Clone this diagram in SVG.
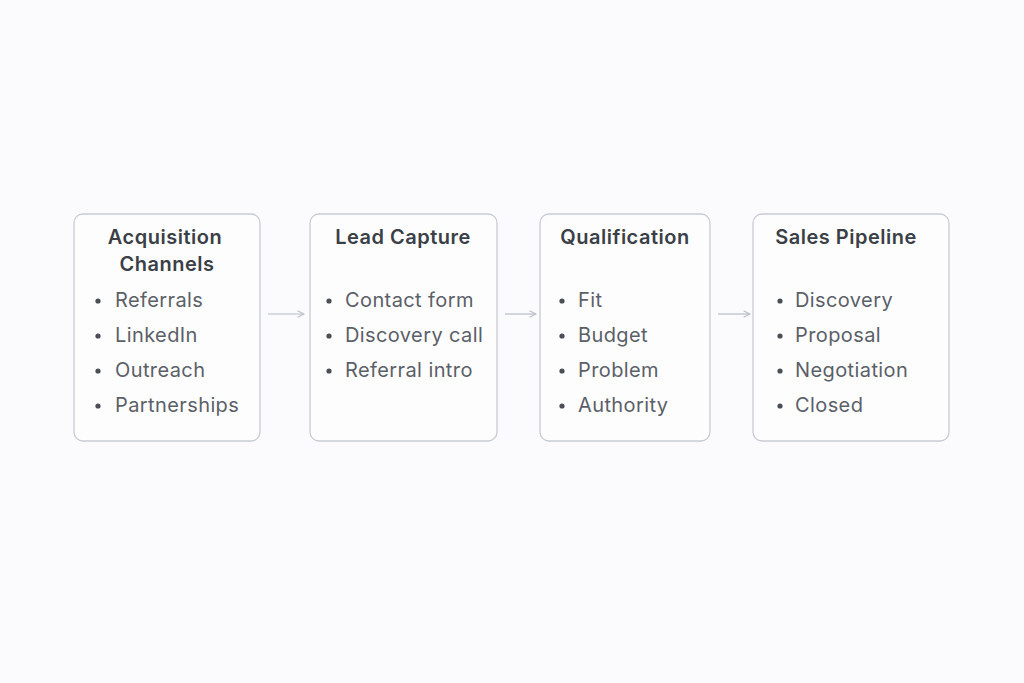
<svg xmlns="http://www.w3.org/2000/svg" width="1024" height="683" viewBox="0 0 1024 683">
<defs>
<style>
.box{fill:#fdfdfe;stroke:#c8cbd5;stroke-width:1.3}
.title{font-family:Inter,"Noto Sans",sans-serif;font-weight:600;font-size:20px;letter-spacing:0.5px;fill:#3b3f46;text-anchor:middle}
.item{font-family:Inter,"Noto Sans",sans-serif;font-size:20px;letter-spacing:0.4px;fill:#5b6068}
.bul{fill:#4a4e55}
.conn{stroke:#b8bcc8;stroke-width:1.2;fill:none}
</style>
<marker id="ah" viewBox="0 0 10 10" refX="9" refY="5" markerWidth="8" markerHeight="8" orient="auto" markerUnits="userSpaceOnUse">
<path d="M1,1 L9,5 L1,9" fill="none" stroke="#b8bcc8" stroke-width="1.3"/>
</marker>
</defs>
<rect width="1024" height="683" fill="#fbfbfd"/>
<g id="connectors">
<line class="conn" x1="268" y1="314" x2="304" y2="314" marker-end="url(#ah)"/>
<line class="conn" x1="505" y1="314" x2="536" y2="314" marker-end="url(#ah)"/>
<line class="conn" x1="718" y1="314" x2="750" y2="314" marker-end="url(#ah)"/>
</g>
<g id="acquisition">
<rect class="box" x="74" y="214" width="186" height="227" rx="9"/>
<text class="title" x="165" y="244">Acquisition</text>
<text class="title" x="167" y="271">Channels</text>
<circle class="bul" cx="98" cy="301" r="2.6"/><text class="item" x="115" y="307">Referrals</text>
<circle class="bul" cx="98" cy="336" r="2.6"/><text class="item" x="115" y="342">LinkedIn</text>
<circle class="bul" cx="98" cy="371" r="2.6"/><text class="item" x="115" y="377">Outreach</text>
<circle class="bul" cx="98" cy="406" r="2.6"/><text class="item" x="115" y="412">Partnerships</text>
</g>
<g id="lead-capture">
<rect class="box" x="310" y="214" width="187" height="227" rx="9"/>
<text class="title" x="403" y="244">Lead Capture</text>
<circle class="bul" cx="329" cy="301" r="2.6"/><text class="item" x="345" y="307">Contact form</text>
<circle class="bul" cx="329" cy="336" r="2.6"/><text class="item" x="345" y="342">Discovery call</text>
<circle class="bul" cx="329" cy="371" r="2.6"/><text class="item" x="345" y="377">Referral intro</text>
</g>
<g id="qualification">
<rect class="box" x="540" y="214" width="170" height="227" rx="9"/>
<text class="title" x="625" y="244">Qualification</text>
<circle class="bul" cx="562" cy="301" r="2.6"/><text class="item" x="578" y="307">Fit</text>
<circle class="bul" cx="562" cy="336" r="2.6"/><text class="item" x="578" y="342">Budget</text>
<circle class="bul" cx="562" cy="371" r="2.6"/><text class="item" x="578" y="377">Problem</text>
<circle class="bul" cx="562" cy="406" r="2.6"/><text class="item" x="578" y="412">Authority</text>
</g>
<g id="sales-pipeline">
<rect class="box" x="753" y="214" width="196" height="227" rx="9"/>
<text class="title" x="846" y="244">Sales Pipeline</text>
<circle class="bul" cx="780" cy="301" r="2.6"/><text class="item" x="795" y="307">Discovery</text>
<circle class="bul" cx="780" cy="336" r="2.6"/><text class="item" x="795" y="342">Proposal</text>
<circle class="bul" cx="780" cy="371" r="2.6"/><text class="item" x="795" y="377">Negotiation</text>
<circle class="bul" cx="780" cy="406" r="2.6"/><text class="item" x="795" y="412">Closed</text>
</g>
</svg>
